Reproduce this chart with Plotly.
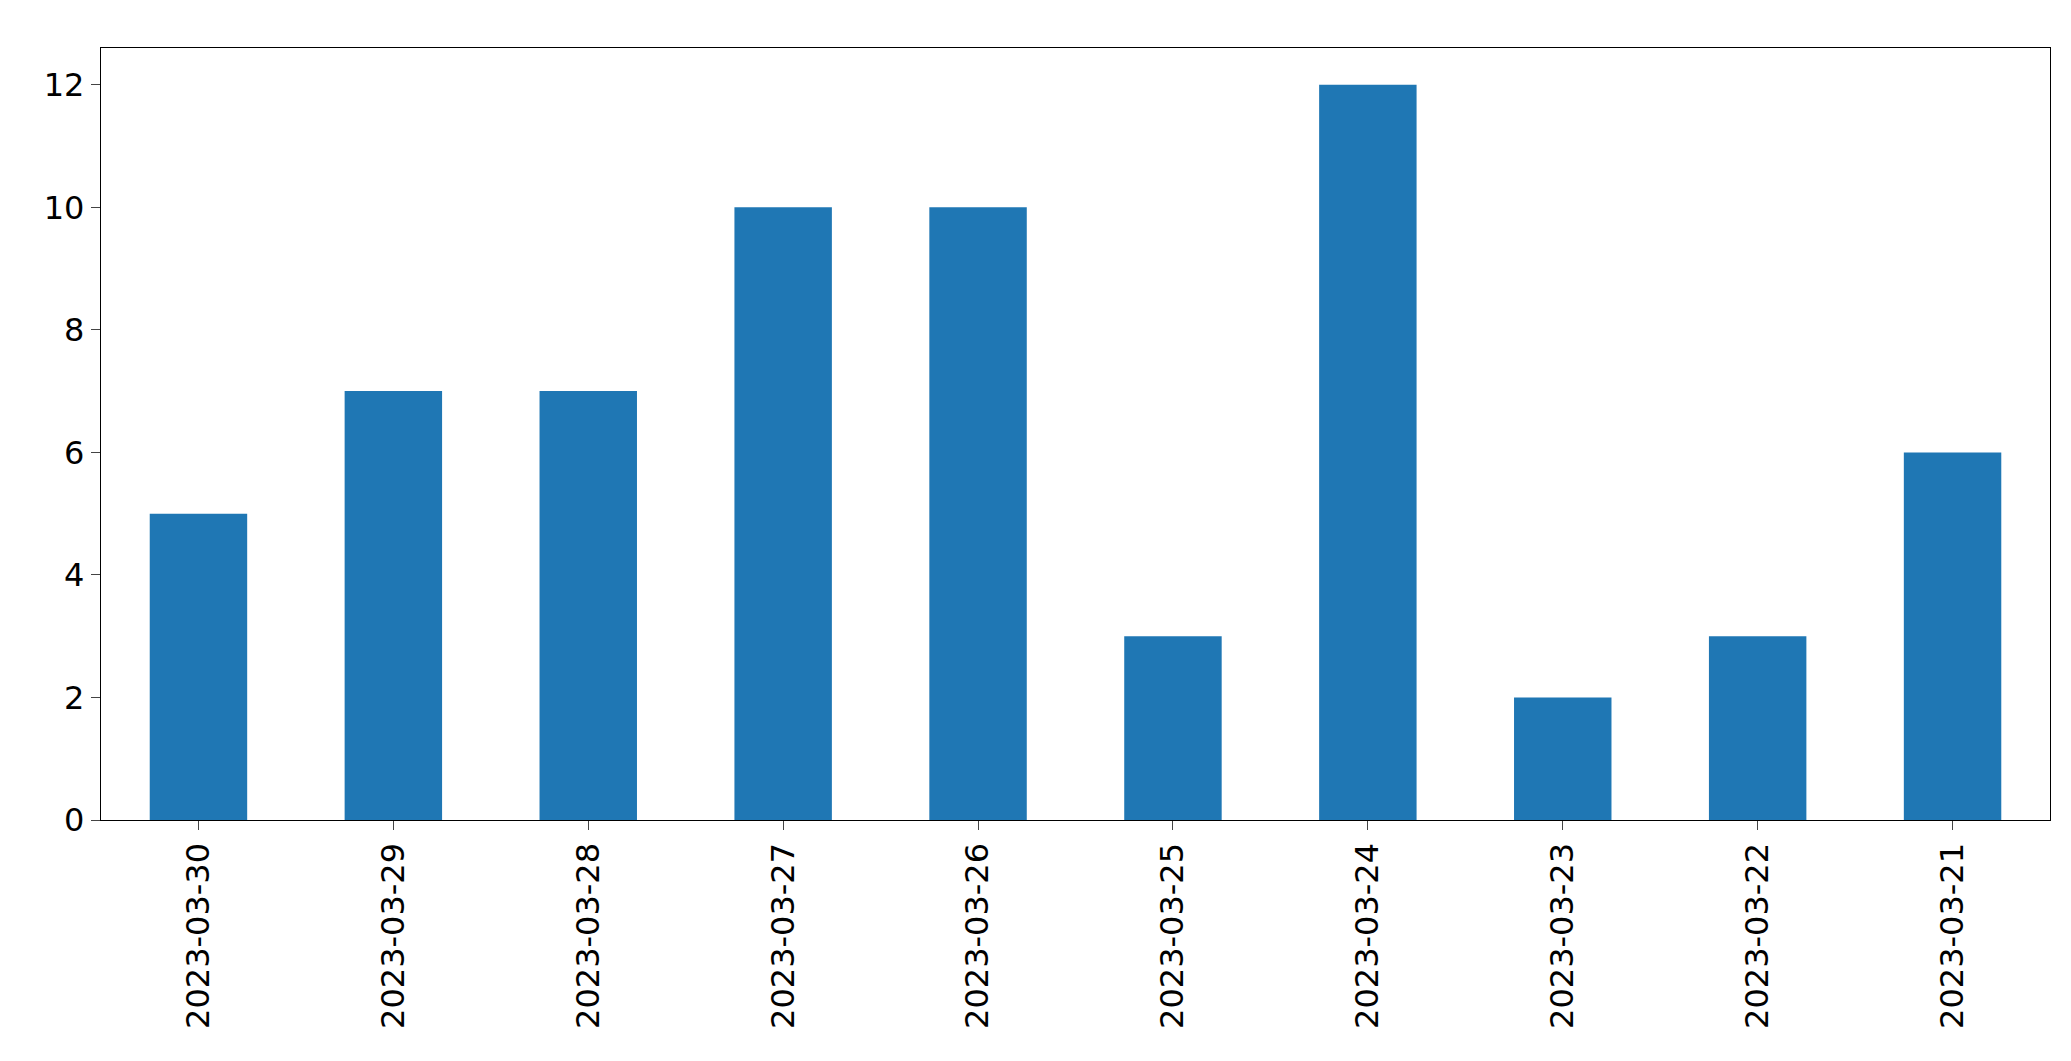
import plotly.graph_objects as go

dates = ["2023-03-30","2023-03-29","2023-03-28","2023-03-27","2023-03-26",
         "2023-03-25","2023-03-24","2023-03-23","2023-03-22","2023-03-21"]
counts = [5, 7, 7, 10, 10, 3, 12, 2, 3, 6]

fig = go.Figure(go.Bar(x=dates, y=counts, width=0.5, marker_color="#1f77b4",
                       marker_line_width=0))
fig.update_layout(
    width=2071, height=1061, paper_bgcolor="white", plot_bgcolor="white",
    margin=dict(l=93, r=29, t=40, b=249), showlegend=False,
    font=dict(family="DejaVu Sans", size=32, color="black"),
)
fig.update_xaxes(type="category", range=[-0.5, 9.5], tickangle=-90,
                 showline=True, linecolor="black", linewidth=1.3, mirror=True,
                 ticks="outside", ticklen=9, tickwidth=1.3, showgrid=False)
fig.update_yaxes(range=[0, 12.6], tickvals=[0,2,4,6,8,10,12],
                 showline=True, linecolor="black", linewidth=1.3, mirror=True,
                 ticks="outside", ticklen=9, tickwidth=1.3, showgrid=False,
                 zeroline=False)
fig.write_html("out.html")
